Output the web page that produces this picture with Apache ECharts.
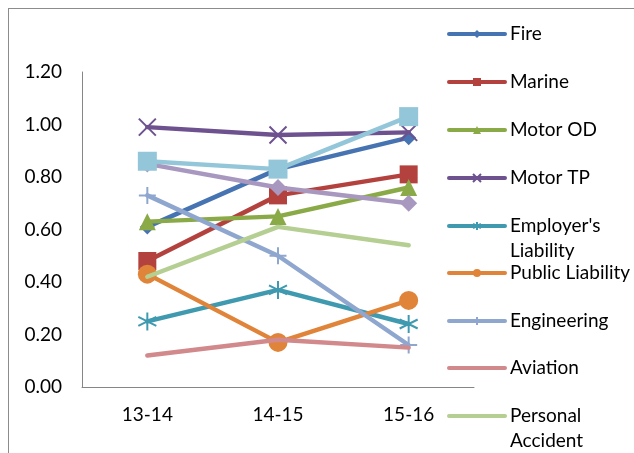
<!DOCTYPE html>
<html>
<head>
<meta charset="utf-8">
<script src="https://cdn.jsdelivr.net/npm/echarts@6/dist/echarts.min.js"></script>
<style>
html,body{margin:0;padding:0;background:#fff;}
#wrap{position:relative;width:634px;height:453px;}
#chart{position:absolute;left:0;top:0;width:634px;height:453px;}
#frame{position:absolute;left:8px;top:8px;right:0;bottom:0;border-left:1px solid #8c8c8c;border-top:1px solid #8c8c8c;pointer-events:none;}
</style>
</head>
<body>
<div id="wrap"><div id="chart"></div><div id="frame"></div></div>
<script>
var categories = ['13-14', '14-15', '15-16'];
var yTicks = [0, 0.2, 0.4, 0.6, 0.8, 1.0, 1.2];
var fire = [0.61, 0.83, 0.95];
var marine = [0.48, 0.73, 0.81];
var motorOD = [0.63, 0.65, 0.76];
var motorTP = [0.99, 0.96, 0.97];
var employers = [0.25, 0.37, 0.24];
var publicLiab = [0.43, 0.17, 0.33];
var engineering = [0.73, 0.50, 0.16];
var aviation = [0.12, 0.18, 0.15];
var personal = [0.42, 0.61, 0.54];
var series10 = [0.85, 0.76, 0.70];
var series11 = [0.86, 0.83, 1.03];

var names = ['Fire', 'Marine', 'Motor OD', 'Motor TP', "Employer's\nLiability", 'Public Liability', 'Engineering', 'Aviation', 'Personal\nAccident'];
var colors = ['#4673B1', '#B3423F', '#8AAA47', '#6E518F', '#3F9AB0', '#E0843A', '#8FA7CF', '#D1898C', '#B5CE91', '#A898C0', '#93C6D8'];
var dataSets = [fire, marine, motorOD, motorTP, employers, publicLiab, engineering, aviation, personal, series10, series11];
var X = 'path://M0,0L10,10M10,0L0,10';
var STAR = 'path://M5,0L5,10M0,2.5L10,7.5M0,7.5L10,2.5';
var PLUS = 'path://M5,0L5,10M0,5L10,5';
var symbols = ['diamond', 'rect', 'triangle', X, STAR, 'circle', PLUS, 'none', 'none', 'diamond', 'rect'];
var sizes = [15, 18, 17, 17, 18, 19, 17, 0, 0, 17, 19];
var stroked = [false, false, false, true, true, false, true, false, false, false, false];
var seriesNames = names.concat(['Series10', 'Series11']);

var series = dataSets.map(function (d, i) {
  return {
    name: seriesNames[i],
    type: 'line',
    data: d,
    symbol: symbols[i],
    symbolSize: sizes[i],
    showSymbol: symbols[i] !== 'none',
    lineStyle: { color: colors[i], width: 4.5, cap: 'round' },
    itemStyle: { color: stroked[i] ? 'rgba(0,0,0,0)' : colors[i], borderColor: colors[i], borderWidth: stroked[i] ? 2 : 0 },
    emphasis: { disabled: true },
    animation: false,
    z: 2 + i
  };
});

var centers = [34, 82, 130, 178, 226, 273, 321, 368, 416];
var legends = names.map(function (n, i) {
  var multi = n.indexOf('\n') >= 0;
  var noMarker = symbols[i] === 'none';
  return {
    data: [n],
    orient: 'vertical',
    left: 447,
    top: multi ? centers[i] - 37.5 : centers[i] - 12.5,
    padding: 0,
    itemWidth: 56,
    itemHeight: 10,
    itemGap: 0,
    selectedMode: false,
    lineStyle: { width: 4 },
    itemStyle: noMarker ? { opacity: 0 } : {},
    formatter: function (name) { return multi ? ' \n' + name : name; },
    textStyle: { fontFamily: 'Lato', fontSize: 19, color: '#000', lineHeight: 25 }
  };
});

var chart = echarts.init(document.getElementById('chart'), null, { renderer: 'canvas' });
chart.setOption({
  backgroundColor: 'transparent',
  animation: false,
  grid: { left: 82, right: 160, top: 72, bottom: 66, containLabel: false },
  legend: legends,
  xAxis: {
    type: 'category',
    data: categories,
    boundaryGap: true,
    axisLine: { lineStyle: { color: '#868686', width: 1 } },
    axisTick: { show: false },
    axisLabel: { fontFamily: 'Lato', fontSize: 19, color: '#000', margin: 18 }
  },
  yAxis: {
    type: 'value',
    min: yTicks[0],
    max: yTicks[yTicks.length - 1],
    interval: 0.2,
    axisLine: { show: true, lineStyle: { color: '#868686', width: 1 } },
    axisTick: { show: false },
    splitLine: { show: false },
    axisLabel: { fontFamily: 'Lato', fontSize: 19, color: '#000', margin: 20, formatter: function (v) { return v.toFixed(2); } }
  },
  series: series
});
</script>
</body>
</html>
